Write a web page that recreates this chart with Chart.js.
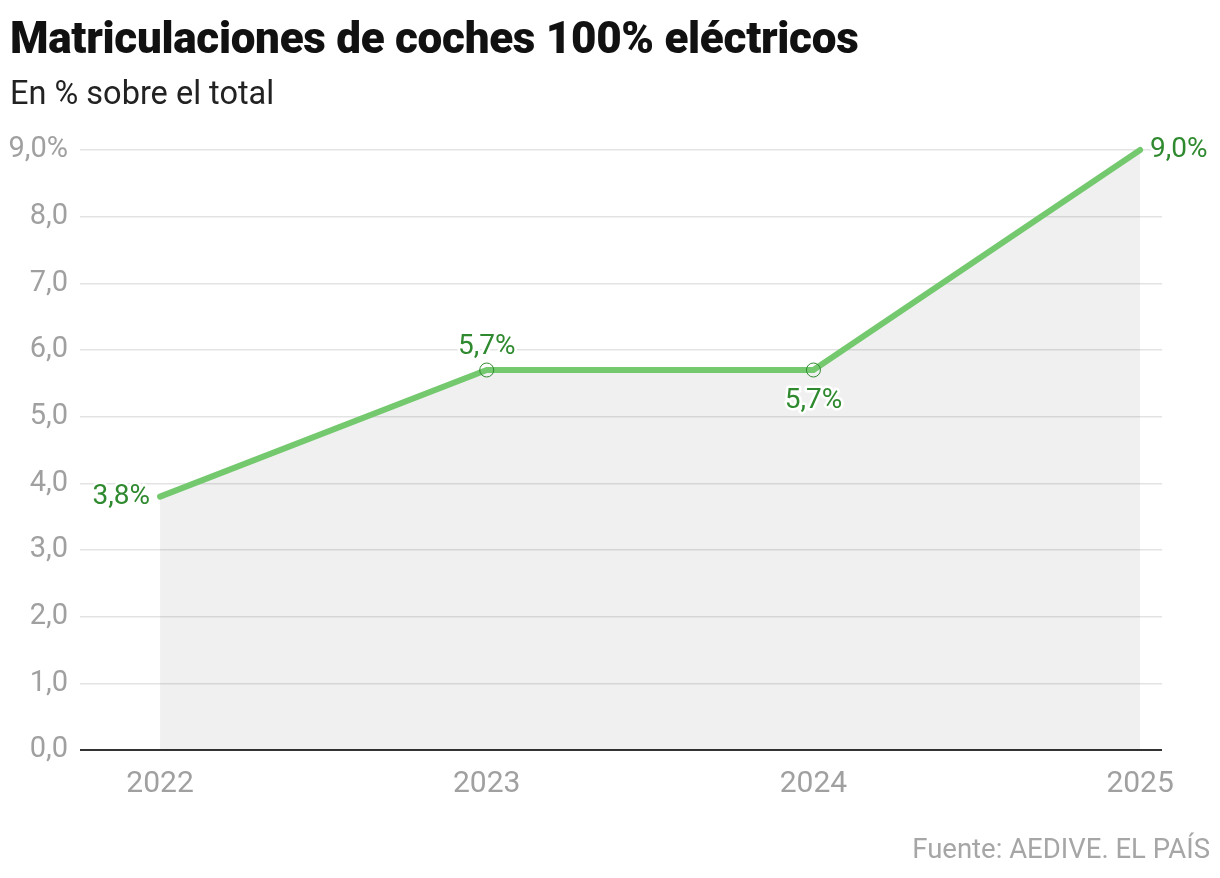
<!DOCTYPE html>
<html lang="es">
<head>
<meta charset="utf-8">
<title>Matriculaciones de coches 100% eléctricos</title>
<script src="https://cdn.jsdelivr.net/npm/chart.js@4.4.1/dist/chart.umd.min.js"></script>
<style>
  html, body { margin: 0; padding: 0; background: #fff; }
  body { width: 1220px; height: 878px; position: relative; overflow: hidden; font-family: Roboto, "Noto Sans", sans-serif; }
  #title { position: absolute; left: 10px; top: 12px; margin: 0; font-size: 44px; font-weight: 900; color: #111; letter-spacing: -0.3px; white-space: nowrap; }
  #subtitle { position: absolute; left: 10px; top: 74px; margin: 0; font-size: 32.5px; font-weight: 400; color: #222; }
  #source { position: absolute; right: 10px; top: 832px; font-size: 27.5px; color: #a6a6a6; }
  #wrap { position: absolute; left: 0; top: 0; width: 1220px; height: 878px; }
</style>
</head>
<body>
<div id="wrap"><canvas id="chart"></canvas></div>
<h1 id="title">Matriculaciones de coches 100% eléctricos</h1>
<p id="subtitle">En % sobre el total</p>
<div id="source">Fuente: AEDIVE. EL PAÍS</div>
<script>
// Data
const years = [2022, 2023, 2024, 2025];
const shares = [3.8, 5.7, 5.7, 9.0];
const yTicks = [0, 1, 2, 3, 4, 5, 6, 7, 8, 9];

const labelGreen = '#2f8a2f';

function fmt(v, decimals) {
  return v.toFixed(decimals).replace('.', ',');
}

// Value labels with white halo
const valueLabels = {
  id: 'valueLabels',
  afterDatasetsDraw(chart, args, opts) {
    const ctx = chart.ctx;
    const meta = chart.getDatasetMeta(0);
    ctx.save();
    ctx.font = '400 28px Roboto, sans-serif';
    ctx.lineJoin = 'round';
    meta.data.forEach((pt, i) => {
      const place = opts.placement[i];
      let x = pt.x, y = pt.y;
      ctx.textBaseline = 'middle';
      if (place === 'left') { ctx.textAlign = 'right'; x -= 10; }
      else if (place === 'right') { ctx.textAlign = 'left'; x += 10; }
      else if (place === 'top') { ctx.textAlign = 'center'; y -= 23; }
      else { ctx.textAlign = 'center'; y += 31; }
      const txt = fmt(shares[i], 1) + '%';
      ctx.strokeStyle = '#fff';
      ctx.lineWidth = 5;
      ctx.strokeText(txt, x, y);
      ctx.fillStyle = labelGreen;
      ctx.fillText(txt, x, y);
    });
    ctx.restore();
  }
};

const ctx = document.getElementById('chart').getContext('2d');
new Chart(ctx, {
  type: 'line',
  data: {
    datasets: [{
      data: years.map((y, i) => ({ x: y, y: shares[i] })),
      borderColor: '#74c96f',
      borderWidth: 6,
      borderCapStyle: 'round',
      tension: 0,
      fill: 'origin',
      backgroundColor: 'rgba(0,0,0,0.06)',
      pointRadius: [0, 7, 7, 0],
      pointHoverRadius: [0, 7, 7, 0],
      pointBorderWidth: 1,
      pointBorderColor: labelGreen,
      pointBackgroundColor: 'rgba(0,0,0,0)',
      clip: false
    }]
  },
  options: {
    responsive: true,
    maintainAspectRatio: false,
    animation: false,
    layout: { padding: { top: 150, right: 58, bottom: 78, left: 0 } },
    plugins: {
      legend: { display: false },
      tooltip: { enabled: false },
      valueLabels: { placement: ['left', 'top', 'bottom', 'right'] }
    },
    scales: {
      x: {
        type: 'linear',
        min: 2021.755,
        max: 2025.067,
        afterBuildTicks: scale => { scale.ticks = years.map(v => ({ value: v })); },
        afterFit: scale => { scale.height = 50; },
        grid: { display: false },
        border: { display: false },
        ticks: {
          padding: 8,
          color: '#a0a0a0',
          font: { family: 'Roboto', size: 30 },
          callback: v => String(v)
        }
      },
      y: {
        min: 0,
        max: 9,
        afterBuildTicks: scale => { scale.ticks = yTicks.map(v => ({ value: v })); },
        afterFit: scale => { scale.width = 80; },
        border: { display: false },
        grid: {
          drawTicks: false,
          color: c => c.tick && c.tick.value === 0 ? '#333' : '#e3e3e3',
          lineWidth: c => c.tick && c.tick.value === 0 ? 2 : 1.5
        },
        ticks: {
          padding: 12,
          color: '#a0a0a0',
          font: { family: 'Roboto', size: 29 },
          callback: v => v === 9 ? fmt(v, 1) + '%' : fmt(v, 1)
        }
      }
    }
  },
  plugins: [valueLabels]
});
</script>
</body>
</html>
